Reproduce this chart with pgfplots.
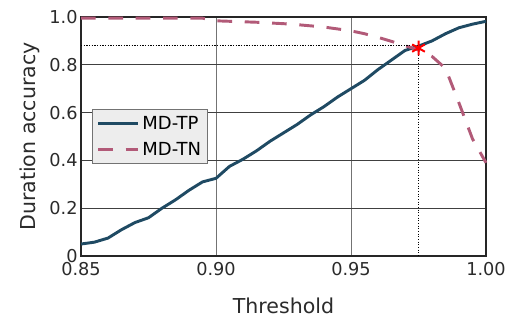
\documentclass[border=0pt]{standalone}
\usepackage{fontspec}
\setmainfont{DejaVu Sans}
\usepackage{pgfplots}
\pgfplotsset{compat=1.18}
\definecolor{tpcol}{HTML}{1F4A63}
\definecolor{tncol}{HTML}{B25A78}
\definecolor{txt}{HTML}{2B2B2B}
\begin{document}
\begin{tikzpicture}[x=0.75pt,y=0.75pt]
\path[use as bounding box] (-81,-71) rectangle (432,256);
\begin{axis}[
  at={(0,0)}, anchor=south west,
  scale only axis, width=303.75pt, height=179.25pt,
  xmin=0.85, xmax=1.0, ymin=0, ymax=1.0,
  xtick={0.85,0.90,0.95,1.00},
  xticklabels={0.85,0.90,0.95,1.00},
  ytick={0,0.2,0.4,0.6,0.8,1.0},
  yticklabels={0,0.2,0.4,0.6,0.8,1.0},
  tick align=inside, major tick length=0pt,
  grid=major,
  x grid style={draw=black!55, line width=0.75pt},
  y grid style={draw=black!75, line width=0.75pt},
  axis line style={draw=black!85, line width=0.9pt},
  every tick label/.append style={font=\fontsize{13.3}{15}\selectfont, text=txt},
  /pgf/number format/assume math mode=true,
  xticklabel style={yshift=-1pt},
  yticklabel style={xshift=1pt},
  xlabel={Threshold}, ylabel={Duration accuracy},
  label style={font=\fontsize{15.4}{18}\selectfont, text=txt},
  xlabel style={yshift=-10pt},
  ylabel style={yshift=0pt},
  clip=false,
  legend style={at={(axis cs:0.8542,0.615)}, anchor=north west, fill=black!7, draw=black!55, line width=0.75pt,
    font=\fontsize{13.5}{15}\selectfont, text=black, inner xsep=3pt, inner ysep=3pt,
    /tikz/every even column/.append style={column sep=2pt},
    row sep=4pt, legend cell align=left},
  legend image code/.code={\draw[#1] (0pt,0pt) -- (30pt,0pt);},
]
\addplot[tpcol, line width=2.2pt] coordinates {
(0.850,0.050)(0.855,0.058)(0.860,0.075)(0.865,0.110)(0.870,0.140)(0.875,0.160)
(0.880,0.200)(0.885,0.235)(0.890,0.275)(0.895,0.310)(0.900,0.325)(0.905,0.375)
(0.910,0.405)(0.915,0.440)(0.920,0.480)(0.925,0.515)(0.930,0.550)(0.935,0.590)
(0.940,0.625)(0.945,0.665)(0.950,0.700)(0.955,0.735)(0.960,0.780)(0.965,0.820)
(0.970,0.860)(0.975,0.878)(0.980,0.900)(0.985,0.930)(0.990,0.955)(0.995,0.970)(1.000,0.982)};
\addlegendentry{MD-TP}
\addplot[tncol, line width=2.2pt, dash pattern=on 11pt off 9.5pt] coordinates {
(0.850,0.995)(0.855,0.995)(0.860,0.995)(0.865,0.995)(0.870,0.995)(0.875,0.995)
(0.880,0.995)(0.885,0.995)(0.890,0.995)(0.895,0.995)(0.900,0.984)(0.905,0.982)
(0.910,0.980)(0.915,0.978)(0.920,0.975)(0.925,0.972)(0.930,0.968)(0.935,0.963)
(0.940,0.958)(0.945,0.950)(0.950,0.942)(0.955,0.930)(0.960,0.915)(0.965,0.898)
(0.970,0.880)(0.975,0.862)(0.980,0.835)(0.985,0.785)(0.990,0.640)(0.995,0.490)(1.000,0.390)};
\addlegendentry{MD-TN}
\addplot[black, line width=0.9pt, dash pattern=on 0.9pt off 1.1pt, forget plot] coordinates {(0.85,0.88)(0.975,0.88)(0.975,0)};
\addplot[red, only marks, mark=asterisk, mark size=5.5pt, mark options={line width=1.5pt}, forget plot] coordinates {(0.975,0.87)};
\end{axis}
\end{tikzpicture}
\end{document}
